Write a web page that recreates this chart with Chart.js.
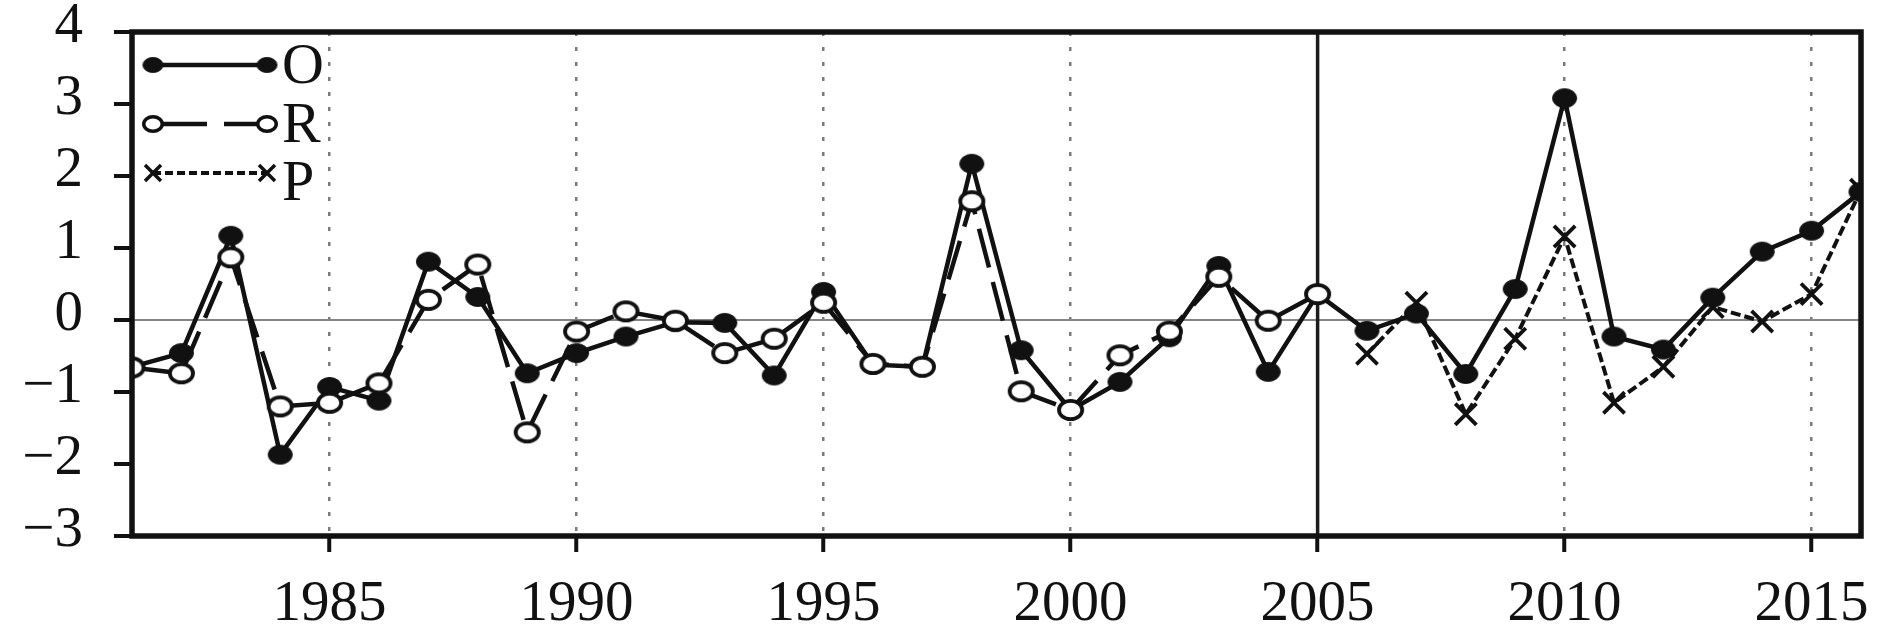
<!DOCTYPE html>
<html>
<head>
<meta charset="utf-8">
<script src="https://cdn.jsdelivr.net/npm/chart.js@4.4.1/dist/chart.umd.min.js"></script>
<style>
  html, body { margin: 0; padding: 0; background: #fff; }
  canvas { display: block; }
</style>
</head>
<body>
<canvas id="myChart" width="1890" height="633"></canvas>
<script>
// years on the x axis
const years = [1981, 1982, 1983, 1984, 1985, 1986, 1987, 1988, 1989, 1990,
               1991, 1992, 1993, 1994, 1995, 1996, 1997, 1998, 1999, 2000,
               2001, 2002, 2003, 2004, 2005, 2006, 2007, 2008, 2009, 2010,
               2011, 2012, 2013, 2014, 2015, 2016];

// O - observed
const valuesO = [-0.65, -0.46, 1.17, -1.87, -0.93, -1.12, 0.81, 0.32, -0.74, -0.46,
                 -0.23, -0.03, -0.04, -0.77, 0.39, -0.62, -0.65, 2.17, -0.42, -1.25,
                 -0.86, -0.24, 0.75, -0.72, 0.36, -0.15, 0.09, -0.75, 0.43, 3.08,
                 -0.23, -0.41, 0.31, 0.95, 1.24, 1.78];

// R - fitted part (ends 2005)
const valuesR = [-0.66, -0.74, 0.87, -1.20, -1.15, -0.88, 0.28, 0.77, -1.56, -0.16,
                 0.12, -0.01, -0.46, -0.26, 0.24, -0.61, -0.65, 1.65, -0.99, -1.25,
                 -0.49, -0.16, 0.60, -0.01, 0.36, null, null, null, null, null,
                 null, null, null, null, null, null];

// P - prediction part (starts 2006)
const valuesP = [null, null, null, null, null, null, null, null, null, null,
                 null, null, null, null, null, null, null, null, null, null,
                 null, null, null, null, null, -0.47, 0.24, -1.31, -0.26, 1.16,
                 -1.15, -0.65, 0.18, -0.02, 0.36, 1.81];

const seriesLabels = ['O', 'R', 'P'];
const xTicks = [1985, 1990, 1995, 2000, 2005, 2010, 2015];
const yTicks = [-3, -2, -1, 0, 1, 2, 3, 4];
const splitYear = 2005;

const FONT = '"Liberation Serif", "Times New Roman", serif';
const INK = '#111';

function toPoints(vals) {
    return years.map((yr, i) => ({ x: yr, y: vals[i] }));
}

// the dots in the figure are a bit wider than tall, so draw them as little images
function ellipseMarker(w, h, fill, lw) {
    const c = document.createElement('canvas');
    c.width = w + 2;
    c.height = h + 2;
    const g = c.getContext('2d');
    g.fillStyle = fill;
    g.strokeStyle = INK;
    g.lineWidth = lw;
    g.beginPath();
    g.ellipse(c.width / 2, c.height / 2, w / 2 - lw / 2, h / 2 - lw / 2, 0, 0, Math.PI * 2);
    g.fill();
    g.stroke();
    return c;
}

const dotFilled = ellipseMarker(25, 20, INK, 1);
const dotOpen = ellipseMarker(27, 22, '#fff', 3.8);
const dotFilledSmall = ellipseMarker(21, 16, INK, 1);
const dotOpenSmall = ellipseMarker(22, 18, '#fff', 3.5);

// solid line at 2005 under the data, heavy box over it
const framePlugin = {
    id: 'frame',
    beforeDatasetsDraw(chart) {
        const { ctx, chartArea, scales } = chart;
        const x = scales.x.getPixelForValue(splitYear);
        ctx.save();
        ctx.strokeStyle = '#1c1c1c';
        ctx.lineWidth = 3.5;
        ctx.beginPath();
        ctx.moveTo(x, chartArea.top);
        ctx.lineTo(x, chartArea.bottom);
        ctx.stroke();
        ctx.restore();
    },
    afterDatasetsDraw(chart) {
        const { ctx, chartArea: a } = chart;
        ctx.save();
        ctx.strokeStyle = INK;
        ctx.lineWidth = 5.5;
        ctx.strokeRect(a.left, a.top, a.right - a.left, a.bottom - a.top);
        ctx.restore();
    }
};

function drawLegendMarker(ctx, ds, x, y) {
    ctx.save();
    ctx.setLineDash([]);
    if (ds.pointStyle === 'crossRot') {
        const d = 8;
        ctx.strokeStyle = INK;
        ctx.lineWidth = 3.5;
        ctx.beginPath();
        ctx.moveTo(x - d, y - d); ctx.lineTo(x + d, y + d);
        ctx.moveTo(x - d, y + d); ctx.lineTo(x + d, y - d);
        ctx.stroke();
    } else {
        const img = ds.legendMarker;
        ctx.drawImage(img, x - img.width / 2, y - img.height / 2);
    }
    ctx.restore();
}

// legend in the top left corner: marker - line - marker, then the name
const cornerLegend = {
    id: 'cornerLegend',
    afterDraw(chart) {
        const { ctx, chartArea: a } = chart;
        const lineY = [33, 92, 141];
        const textY = [51, 110, 168];
        chart.data.datasets.forEach((ds, i) => {
            const y = a.top + lineY[i];
            const x1 = a.left + 21;
            const x2 = a.left + 135;
            ctx.save();
            ctx.strokeStyle = INK;
            ctx.lineWidth = ds.borderWidth;
            ctx.setLineDash(ds.legendDash || []);
            ctx.beginPath();
            ctx.moveTo(x1, y);
            ctx.lineTo(x2, y);
            ctx.stroke();
            ctx.restore();
            drawLegendMarker(ctx, ds, x1, y);
            drawLegendMarker(ctx, ds, x2, y);
            ctx.save();
            ctx.fillStyle = INK;
            ctx.font = '58px ' + FONT;
            ctx.textBaseline = 'alphabetic';
            ctx.textAlign = 'left';
            ctx.fillText(ds.label, a.left + 150, a.top + textY[i]);
            ctx.restore();
        });
    }
};

const ctx = document.getElementById('myChart');

new Chart(ctx, {
    type: 'line',
    data: {
        datasets: [{
            label: seriesLabels[0],
            data: toPoints(valuesO),
            borderColor: INK,
            borderWidth: 4.5,
            pointStyle: dotFilled,
            legendMarker: dotFilledSmall,
            pointRadius: 12,
            order: 2
        }, {
            label: seriesLabels[1],
            data: toPoints(valuesR),
            borderColor: INK,
            borderWidth: 4.5,
            borderDash: [40, 15],
            legendDash: [54, 17],
            pointStyle: dotOpen,
            legendMarker: dotOpenSmall,
            pointRadius: 12,
            order: 1
        }, {
            label: seriesLabels[2],
            data: toPoints(valuesP),
            borderColor: INK,
            borderWidth: 4,
            borderDash: [10, 4],
            legendDash: [8, 4],
            pointStyle: 'crossRot',
            pointRadius: 15,
            pointBackgroundColor: INK,
            pointBorderColor: INK,
            pointBorderWidth: 3.8,
            order: 3
        }]
    },
    options: {
        responsive: false,
        animation: false,
        devicePixelRatio: 1,
        layout: { padding: { top: 32, right: 29, left: 0, bottom: 0 } },
        elements: { line: { tension: 0 } },
        plugins: {
            legend: { display: false },
            tooltip: { enabled: false }
        },
        scales: {
            x: {
                type: 'linear',
                min: years[0],
                max: years[years.length - 1],
                afterBuildTicks: s => { s.ticks = xTicks.map(v => ({ value: v })); },
                afterFit: s => { s.height = 97; s.paddingLeft = 0; s.paddingRight = 0; },
                border: { display: false, dash: [4, 11] },
                grid: {
                    color: c => (c.tick && c.tick.value === splitYear) ? 'rgba(0,0,0,0)' : '#7a7a7a',
                    lineWidth: 2.5,
                    tickLength: 16,
                    tickWidth: 4,
                    tickColor: INK
                },
                ticks: {
                    autoSkip: false,
                    maxRotation: 0,
                    padding: 25,
                    color: INK,
                    font: { family: FONT, size: 57, lineHeight: 1 },
                    callback: v => String(v)
                }
            },
            y: {
                min: yTicks[0],
                max: yTicks[yTicks.length - 1],
                afterBuildTicks: s => { s.ticks = yTicks.map(v => ({ value: v })); },
                afterFit: s => { s.width = 132; s.paddingTop = 0; s.paddingBottom = 0; },
                border: { display: false },
                grid: {
                    color: c => (c.tick && c.tick.value === 0) ? '#858585' : 'rgba(0,0,0,0)',
                    lineWidth: 2,
                    tickLength: 18,
                    tickWidth: 4,
                    tickColor: INK
                },
                ticks: {
                    padding: 31,
                    labelOffset: -5,
                    color: INK,
                    font: { family: FONT, size: 57, lineHeight: 1 },
                    callback: v => v < 0 ? '\u2212' + Math.abs(v) : String(v)
                }
            }
        }
    },
    plugins: [framePlugin, cornerLegend]
});
</script>
</body>
</html>
